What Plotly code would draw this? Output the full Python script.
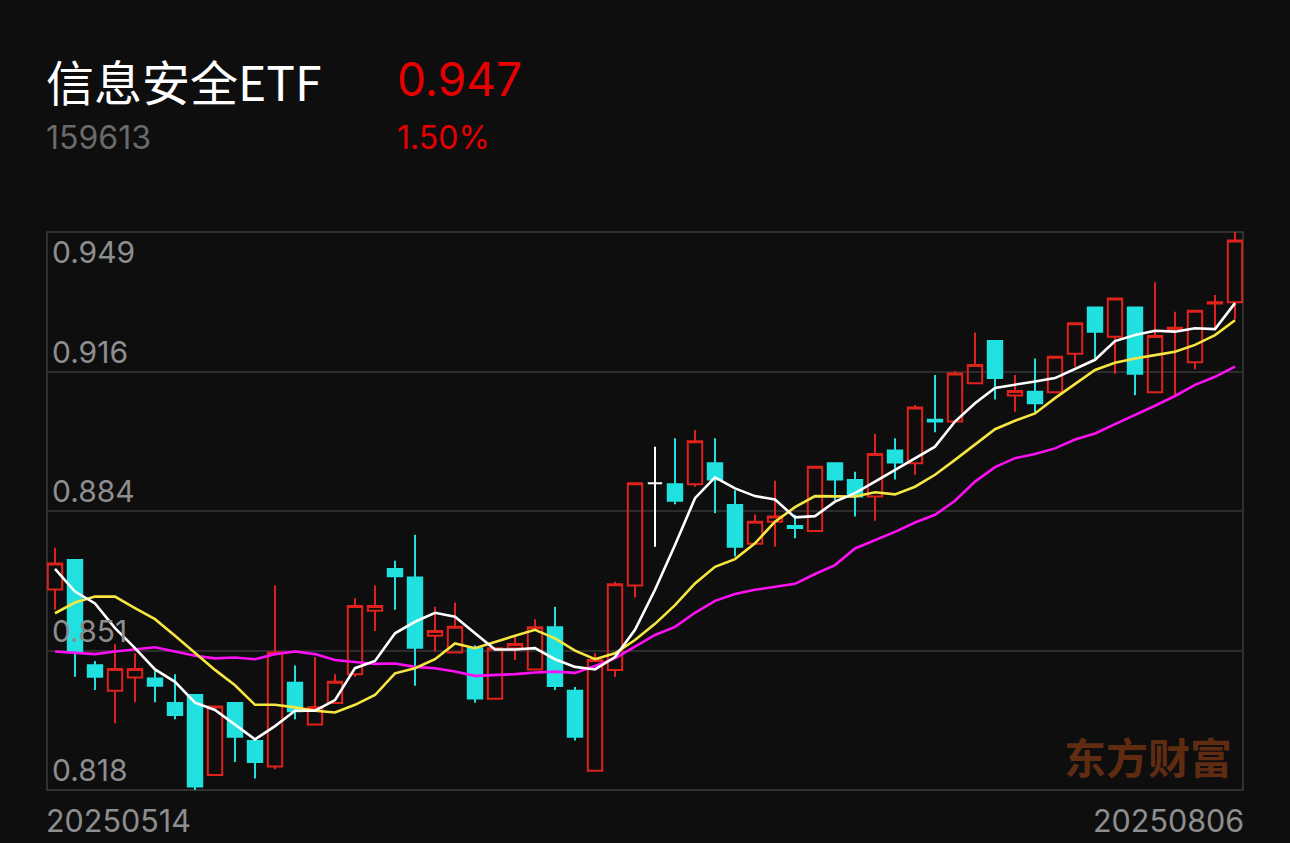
import plotly.graph_objects as go

# ---------------- data ----------------
name = "信息安全ETF"
code = "159613"
last_price = "0.947"
last_pct = "1.50%"
watermark = "东方财富"

dates = [
    "20250514", "20250515", "20250516", "20250519", "20250520", "20250521", "20250522", "20250523",
    "20250526", "20250527", "20250528", "20250529", "20250530",
    "20250603", "20250604", "20250605", "20250606", "20250609", "20250610", "20250611", "20250612",
    "20250613", "20250616", "20250617", "20250618", "20250619", "20250620", "20250623", "20250624",
    "20250625", "20250626", "20250627", "20250630",
    "20250701", "20250702", "20250703", "20250704", "20250707", "20250708", "20250709", "20250710",
    "20250711", "20250714", "20250715", "20250716", "20250717", "20250718", "20250721", "20250722",
    "20250723", "20250724", "20250725", "20250728", "20250729", "20250730", "20250731",
    "20250801", "20250804", "20250805", "20250806",
]

opens = [
    0.8651, 0.8720, 0.8473, 0.8413, 0.8444, 0.8442, 0.8384, 0.8403, 0.8215, 0.8384,
    0.8295, 0.8235, 0.8432, 0.8334, 0.8384, 0.8452, 0.8601, 0.8699, 0.8679, 0.8542,
    0.8503, 0.8513, 0.8394, 0.8513, 0.8463, 0.8562, 0.8413, 0.8225, 0.8462, 0.8660,
    0.8900, 0.8898, 0.8898, 0.8947, 0.8849, 0.8758, 0.8810, 0.8800, 0.8788, 0.8947,
    0.8908, 0.8869, 0.8977, 0.8947, 0.9049, 0.9045, 0.9135, 0.9234, 0.9106, 0.9115,
    0.9114, 0.9204, 0.9313, 0.9244, 0.9313, 0.9114, 0.9262, 0.9184, 0.9322, 0.9325,
]
highs = [
    0.8749, 0.8720, 0.8483, 0.8522, 0.8501, 0.8460, 0.8452, 0.8403, 0.8376, 0.8384,
    0.8295, 0.8660, 0.8472, 0.8492, 0.8452, 0.8630, 0.8660, 0.8718, 0.8779, 0.8610,
    0.8620, 0.8520, 0.8513, 0.8540, 0.8581, 0.8610, 0.8422, 0.8501, 0.8669, 0.8900,
    0.8986, 0.9006, 0.9025, 0.9006, 0.8884, 0.8827, 0.8906, 0.8826, 0.8939, 0.8947,
    0.8927, 0.9016, 0.9006, 0.9084, 0.9154, 0.9164, 0.9254, 0.9234, 0.9154, 0.9193,
    0.9197, 0.9276, 0.9313, 0.9334, 0.9313, 0.9372, 0.9303, 0.9305, 0.9342, 0.9490,
]
lows = [
    0.8603, 0.8446, 0.8415, 0.8337, 0.8386, 0.8386, 0.8346, 0.8180, 0.8215, 0.8246,
    0.8207, 0.8229, 0.8346, 0.8334, 0.8384, 0.8446, 0.8553, 0.8603, 0.8425, 0.8505,
    0.8503, 0.8385, 0.8394, 0.8485, 0.8463, 0.8415, 0.8296, 0.8225, 0.8445, 0.8632,
    0.8751, 0.8851, 0.8892, 0.8830, 0.8728, 0.8758, 0.8751, 0.8771, 0.8788, 0.8861,
    0.8822, 0.8812, 0.8909, 0.8920, 0.9020, 0.9045, 0.9135, 0.9097, 0.9068, 0.9066,
    0.9114, 0.9174, 0.9190, 0.9157, 0.9107, 0.9114, 0.9107, 0.9168, 0.9260, 0.9285,
]
closes = [
    0.8712, 0.8505, 0.8446, 0.8464, 0.8464, 0.8425, 0.8356, 0.8188, 0.8376, 0.8305,
    0.8246, 0.8503, 0.8365, 0.8374, 0.8434, 0.8612, 0.8612, 0.8682, 0.8514, 0.8553,
    0.8563, 0.8395, 0.8513, 0.8523, 0.8562, 0.8424, 0.8305, 0.8485, 0.8663, 0.8900,
    0.8900, 0.8859, 0.8999, 0.8909, 0.8751, 0.8810, 0.8822, 0.8795, 0.8939, 0.8909,
    0.8869, 0.8969, 0.8949, 0.9078, 0.9045, 0.9158, 0.9178, 0.9147, 0.9117, 0.9088,
    0.9197, 0.9276, 0.9256, 0.9334, 0.9157, 0.9246, 0.9265, 0.9305, 0.9325, 0.9470,
]

ma5 = [
    0.8699, 0.8646, 0.8618, 0.8560, 0.8513, 0.8463, 0.8434, 0.8385, 0.8368, 0.8333,
    0.8299, 0.8330, 0.8366, 0.8366, 0.8391, 0.8466, 0.8483, 0.8548, 0.8575, 0.8596,
    0.8587, 0.8548, 0.8510, 0.8510, 0.8513, 0.8487, 0.8469, 0.8463, 0.8492, 0.8556,
    0.8650, 0.8755, 0.8865, 0.8914, 0.8888, 0.8870, 0.8862, 0.8820, 0.8823, 0.8857,
    0.8877, 0.8904, 0.8931, 0.8959, 0.8986, 0.9045, 0.9088, 0.9124, 0.9131, 0.9139,
    0.9147, 0.9168, 0.9190, 0.9234, 0.9248, 0.9258, 0.9256, 0.9264, 0.9262, 0.9323,
]
ma10 = [
    0.8595, 0.8620, 0.8634, 0.8634, 0.8607, 0.8581, 0.8542, 0.8501, 0.8462, 0.8426,
    0.8380, 0.8380, 0.8374, 0.8366, 0.8362, 0.8380, 0.8403, 0.8454, 0.8466, 0.8487,
    0.8524, 0.8513, 0.8528, 0.8542, 0.8556, 0.8536, 0.8507, 0.8487, 0.8501, 0.8532,
    0.8570, 0.8614, 0.8665, 0.8704, 0.8722, 0.8759, 0.8810, 0.8844, 0.8870, 0.8870,
    0.8869, 0.8879, 0.8874, 0.8892, 0.8920, 0.8955, 0.8990, 0.9027, 0.9047, 0.9064,
    0.9100, 0.9133, 0.9166, 0.9183, 0.9193, 0.9201, 0.9209, 0.9225, 0.9248, 0.9283,
]
ma20 = [
    0.8505, 0.8502, 0.8499, 0.8505, 0.8510, 0.8515, 0.8505, 0.8495, 0.8489, 0.8491,
    0.8487, 0.8499, 0.8505, 0.8499, 0.8485, 0.8481, 0.8476, 0.8477, 0.8469, 0.8466,
    0.8458, 0.8448, 0.8450, 0.8452, 0.8456, 0.8458, 0.8455, 0.8471, 0.8489, 0.8516,
    0.8544, 0.8563, 0.8596, 0.8624, 0.8640, 0.8650, 0.8657, 0.8664, 0.8687, 0.8708,
    0.8747, 0.8767, 0.8786, 0.8808, 0.8826, 0.8859, 0.8904, 0.8938, 0.8959, 0.8969,
    0.8982, 0.9003, 0.9017, 0.9039, 0.9060, 0.9082, 0.9105, 0.9131, 0.9150, 0.9174,
]

y_min, y_max = 0.818, 0.949
tick_labels = ["0.949", "0.916", "0.884", "0.851", "0.818"]

# ---------------- style ----------------
BG = "#0e0e0e"
RED = "#e0221d"
CYAN = "#20e0e0"
WHITE = "#ffffff"
YELLOW = "#f8e640"
MAGENTA = "#ff10f4"
GRID = "#2c2c2c"
LABEL = "#8e8e8e"
NUMFONT = "Inter, Roboto, sans-serif"
CJKFONT = "Noto Sans CJK SC, sans-serif"

W, H = 1290, 843
L, R, T, B = 47, 1243, 232, 790


def px(xp):
    return (xp - L) / (R - L)


def py(yp):
    return (B - yp) / (B - T)


xs = list(range(len(dates)))

fig = go.Figure()


def add_candles(idx, color, fill):
    fig.add_trace(go.Candlestick(
        x=[xs[i] for i in idx],
        open=[opens[i] for i in idx],
        high=[highs[i] for i in idx],
        low=[lows[i] for i in idx],
        close=[closes[i] for i in idx],
        increasing=dict(line=dict(color=color, width=2), fillcolor=fill),
        decreasing=dict(line=dict(color=color, width=2), fillcolor=fill),
        whiskerwidth=0,
        hoverinfo="skip",
        showlegend=False,
    ))


up = [i for i in xs if closes[i] > opens[i]]
down = [i for i in xs if closes[i] < opens[i]]
flat = [i for i in xs if closes[i] == opens[i]]
add_candles(up, RED, "rgba(0,0,0,0)")
add_candles(down, CYAN, CYAN)
add_candles(flat, WHITE, WHITE)

for series, col in [(ma20, MAGENTA), (ma10, YELLOW), (ma5, WHITE)]:
    fig.add_trace(go.Scatter(x=xs, y=series, mode="lines",
                             line=dict(color=col, width=2.6),
                             hoverinfo="skip", showlegend=False))

n_div = len(tick_labels) - 1
grid_vals = [y_min + (y_max - y_min) * k / n_div for k in range(n_div + 1)]

annotations = []
# y-axis labels inside plot
for k, lab in enumerate(tick_labels):
    v = y_max - (y_max - y_min) * k / n_div
    annotations.append(dict(
        x=px(50), xref="paper", xanchor="left",
        y=v, yref="y", yanchor="middle",
        yshift=-20 if k == 0 else 20,
        text=lab, showarrow=False,
        font=dict(family=NUMFONT, size=30, color=LABEL),
    ))
# header
annotations += [
    dict(x=px(44), y=py(80), xref="paper", yref="paper", xanchor="left", yanchor="middle",
         text=name, showarrow=False, font=dict(family=CJKFONT, size=48, color=WHITE)),
    dict(x=px(395), y=py(79), xref="paper", yref="paper", xanchor="left", yanchor="middle",
         text=last_price, showarrow=False, font=dict(family=NUMFONT, size=46, color="#e60000")),
    dict(x=px(44), y=py(137), xref="paper", yref="paper", xanchor="left", yanchor="middle",
         text=code, showarrow=False, font=dict(family=NUMFONT, size=32, color="#6a6a6a")),
    dict(x=px(395), y=py(137), xref="paper", yref="paper", xanchor="left", yanchor="middle",
         text=last_pct, showarrow=False, font=dict(family=NUMFONT, size=32, color="#e60000")),
    # dates
    dict(x=px(44), y=py(820), xref="paper", yref="paper", xanchor="left", yanchor="middle",
         text=dates[0], showarrow=False, font=dict(family=NUMFONT, size=30.5, color=LABEL)),
    dict(x=px(1246), y=py(820), xref="paper", yref="paper", xanchor="right", yanchor="middle",
         text=dates[-1], showarrow=False, font=dict(family=NUMFONT, size=30.5, color=LABEL)),
    # watermark
    dict(x=px(1234), y=py(755), xref="paper", yref="paper", xanchor="right", yanchor="middle",
         text="<b>" + watermark + "</b>", showarrow=False,
         font=dict(family=CJKFONT, size=42, color="#5f2c12")),
]

fig.update_layout(
    width=W, height=H, autosize=False,
    paper_bgcolor=BG, plot_bgcolor=BG,
    margin=dict(l=L, r=W - R, t=T, b=H - B, pad=0),
    boxgap=0.28, boxgroupgap=0,
    hovermode=False,
    showlegend=False,
    annotations=annotations,
    shapes=[dict(type="rect", xref="paper", yref="paper", x0=0, x1=1, y0=0, y1=1,
                 line=dict(color="#3c3c3c", width=1.5), layer="below")],
    xaxis=dict(range=[-0.4, len(dates) - 0.6], showgrid=False, zeroline=False,
               showticklabels=False, rangeslider=dict(visible=False), fixedrange=True),
    yaxis=dict(range=[y_min, y_max], tickvals=grid_vals, showticklabels=False,
               showgrid=True, gridcolor=GRID, gridwidth=2, zeroline=False, fixedrange=True),
)

fig.write_html(
    "out.html",
    config={"displayModeBar": False},
    post_script="document.body.style.margin='0';document.body.style.background='#0e0e0e';",
)
